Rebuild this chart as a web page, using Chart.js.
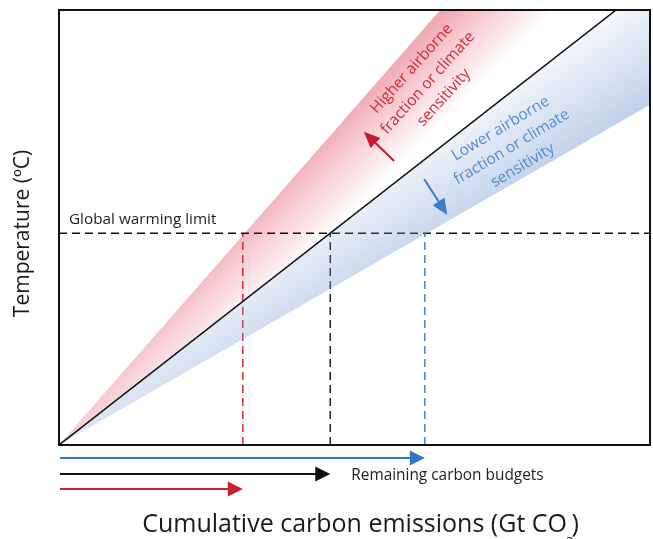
<!DOCTYPE html>
<html>
<head>
<meta charset="utf-8">
<script src="https://cdn.jsdelivr.net/npm/chart.js@4.4.1/dist/chart.umd.min.js"></script>
<style>
  html, body { margin: 0; padding: 0; background: #fff; }
  #wrap { width: 653px; height: 539px; position: relative; }
</style>
</head>
<body>
<div id="wrap"><canvas id="c"></canvas></div>
<script>
// Remaining carbon budgets (cumulative emissions, arbitrary units) for the
// higher-response, central and lower-response cases.
const budgetNames = ['Higher response', 'Central estimate', 'Lower response'];
const budgets = [31.1, 45.9, 61.9];
// Temperature at the global warming limit (arbitrary units)
const warmingLimit = 48.7;
// Warming per unit of cumulative emissions: lines from the origin to the axis edge
const highResponse = [{ x: 0, y: 0 }, { x: 100, y: 155 }];
const centralResponse = [{ x: 0, y: 0 }, { x: 100, y: 106.1 }];
const lowResponse = [{ x: 0, y: 0 }, { x: 100, y: 78.2 }];
// Axis ranges
const xRange = [0, 100];
const yRange = [0, 100];
// Annotation text
const highLabel = ['Higher airborne', 'fraction or climate', 'sensitivity'];
const lowLabel = ['Lower airborne', 'fraction or climate', 'sensitivity'];
const limitLabel = 'Global warming limit';
const budgetLabel = 'Remaining carbon budgets';
const xTitle = 'Cumulative carbon emissions (Gt CO';
const yTitle = 'Temperature (ºC)';

const FONT = '"Open Sans", "Noto Sans", sans-serif';
const INK = '#111111';
const RED = '#c8202e';
const BLUE = '#2f78c4';
const budgetColors = ['#d42a36', '#222222', '#3a88d0'];
const arrowColors = [RED, INK, BLUE];

// Fill for the upper wedge: pink that fades towards the central line
function redFill(context) {
  const ch = context.chart;
  if (!ch.chartArea) return 'rgba(0,0,0,0)';
  const px = ch.scales.x.getPixelForValue(budgets[0]);
  const py = ch.scales.y.getPixelForValue(warmingLimit);
  const g = ch.ctx.createLinearGradient(px + 44.5, py + 44.5, px - 17, py - 17);
  g.addColorStop(0, 'rgba(230,112,128,0)');
  g.addColorStop(1, 'rgba(230,112,128,0.68)');
  return g;
}

// Fill for the lower wedge: translucent blue that fades towards the central line
function blueFill(context) {
  const ch = context.chart;
  if (!ch.chartArea) return 'rgba(0,0,0,0)';
  const px = ch.scales.x.getPixelForValue(budgets[2]);
  const py = ch.scales.y.getPixelForValue(warmingLimit);
  const g = ch.ctx.createLinearGradient(px - 53.6, py - 79.4, px + 17.9, py + 26.6);
  g.addColorStop(0, 'rgba(120,155,210,0)');
  g.addColorStop(1, 'rgba(120,155,210,0.52)');
  return g;
}

function arrow(ctx, x0, y0, x1, y1, color, width, headLen, headHalf) {
  const ang = Math.atan2(y1 - y0, x1 - x0);
  const c = Math.cos(ang), s = Math.sin(ang);
  const bx = x1 - headLen * c, by = y1 - headLen * s;
  ctx.strokeStyle = color;
  ctx.lineWidth = width;
  ctx.beginPath();
  ctx.moveTo(x0, y0);
  ctx.lineTo(bx + c, by + s);
  ctx.stroke();
  ctx.fillStyle = color;
  ctx.beginPath();
  ctx.moveTo(x1, y1);
  ctx.lineTo(bx + headHalf * s, by - headHalf * c);
  ctx.lineTo(bx - headHalf * s, by + headHalf * c);
  ctx.closePath();
  ctx.fill();
}

function rotatedLines(ctx, lines, cx, cy, angleDeg, spacing, color, font) {
  ctx.save();
  ctx.translate(cx, cy);
  ctx.rotate(-angleDeg * Math.PI / 180);
  ctx.fillStyle = color;
  ctx.font = font;
  ctx.textAlign = 'center';
  ctx.textBaseline = 'middle';
  lines.forEach((t, i) => ctx.fillText(t, 0, (i - (lines.length - 1) / 2) * spacing));
  ctx.restore();
}

// Frame, labels, titles and budget arrows
const decor = {
  id: 'decor',
  afterDraw(chart) {
    const { ctx, chartArea: a, scales: { x, y } } = chart;
    ctx.save();

    // plot frame
    ctx.strokeStyle = INK;
    ctx.lineWidth = 2;
    ctx.strokeRect(a.left, a.top, a.right - a.left, a.bottom - a.top);

    // limit label
    ctx.fillStyle = '#222';
    ctx.font = '15.3px ' + FONT;
    ctx.textAlign = 'left';
    ctx.textBaseline = 'alphabetic';
    ctx.fillText(limitLabel, x.getPixelForValue(0) + 10, y.getPixelForValue(warmingLimit) - 9);

    // wedge annotations
    rotatedLines(ctx, highLabel, x.getPixelForValue(62.4), y.getPixelForValue(83.2), 48, 21.5,
      '#d2283a', '15.5px ' + FONT);
    rotatedLines(ctx, lowLabel, x.getPixelForValue(76.6), y.getPixelForValue(68.5), 31, 21.5,
      '#508ccd', '15.5px ' + FONT);

    // direction arrows inside the wedges
    arrow(ctx, x.getPixelForValue(56.7), y.getPixelForValue(65.3),
      x.getPixelForValue(51.6), y.getPixelForValue(72.0), '#c41a2c', 2, 16, 7);
    arrow(ctx, x.getPixelForValue(61.8), y.getPixelForValue(61.1),
      x.getPixelForValue(65.7), y.getPixelForValue(52.9), '#3c7ec4', 2, 16, 7);

    // remaining-budget arrows below the axis (lower response on top)
    const rowOffsets = [44, 29, 13];
    for (let i = 0; i < budgets.length; i++) {
      const yy = a.bottom + rowOffsets[i];
      arrow(ctx, a.left + 1, yy, x.getPixelForValue(budgets[i]), yy, arrowColors[i], 2, 15, 7.5);
    }
    ctx.fillStyle = '#222';
    ctx.font = '15.4px ' + FONT;
    ctx.textAlign = 'left';
    ctx.textBaseline = 'alphabetic';
    ctx.fillText(budgetLabel, x.getPixelForValue(budgets[1]) + 21, a.bottom + rowOffsets[1] + 6);

    // x-axis title with subscript
    ctx.font = '25px ' + FONT;
    const mainW = ctx.measureText(xTitle).width;
    ctx.font = '13px ' + FONT;
    const subW = ctx.measureText('2').width * 0.6;
    ctx.font = '25px ' + FONT;
    const closeW = ctx.measureText(')').width;
    const total = mainW + subW + closeW;
    const tx = (a.left + a.right) / 2 + 6 - total / 2;
    const ty = a.bottom + 87;
    ctx.fillStyle = '#1a1a1a';
    ctx.fillText(xTitle, tx, ty);
    ctx.font = '13px ' + FONT;
    ctx.fillText('2', tx + mainW - 1, ty + 14);
    ctx.font = '25px ' + FONT;
    ctx.fillText(')', tx + mainW + subW, ty);

    // y-axis title
    ctx.save();
    ctx.translate(29, (a.top + a.bottom) / 2 + 6);
    ctx.rotate(-Math.PI / 2);
    ctx.font = '21px ' + FONT;
    ctx.textAlign = 'center';
    ctx.fillText(yTitle, 0, 0);
    ctx.restore();

    ctx.restore();
  }
};

const dashed = (data, color) => ({
  data, borderColor: color, borderWidth: 1.5, borderDash: [8, 5],
  pointRadius: 0, fill: false, order: 10
});

new Chart(document.getElementById('c'), {
  type: 'line',
  data: {
    datasets: [
      { label: 'Central', data: centralResponse, borderColor: INK, borderWidth: 1.5,
        pointRadius: 0, fill: false, order: 0 },
      { label: 'Lower', data: lowResponse, borderColor: 'rgba(0,0,0,0)', borderWidth: 0,
        pointRadius: 0, fill: 0, backgroundColor: blueFill, order: 5 },
      dashed([{ x: xRange[0], y: warmingLimit }, { x: xRange[1], y: warmingLimit }], '#111'),
      ...budgets.map((b, i) => dashed([{ x: b, y: 0 }, { x: b, y: warmingLimit }], budgetColors[i])),
      { label: 'Higher', data: highResponse, borderColor: 'rgba(0,0,0,0)', borderWidth: 0,
        pointRadius: 0, fill: 0, backgroundColor: redFill, order: 20 }
    ]
  },
  options: {
    responsive: true,
    maintainAspectRatio: false,
    animation: false,
    events: [],
    layout: { padding: { left: 59, top: 10, right: 3, bottom: 94 } },
    elements: { line: { tension: 0 } },
    scales: {
      x: { type: 'linear', min: xRange[0], max: xRange[1], display: false },
      y: { type: 'linear', min: yRange[0], max: yRange[1], display: false }
    },
    plugins: {
      legend: { display: false },
      tooltip: { enabled: false },
      filler: { drawTime: 'beforeDatasetDraw' }
    }
  },
  plugins: [decor]
});
</script>
</body>
</html>
